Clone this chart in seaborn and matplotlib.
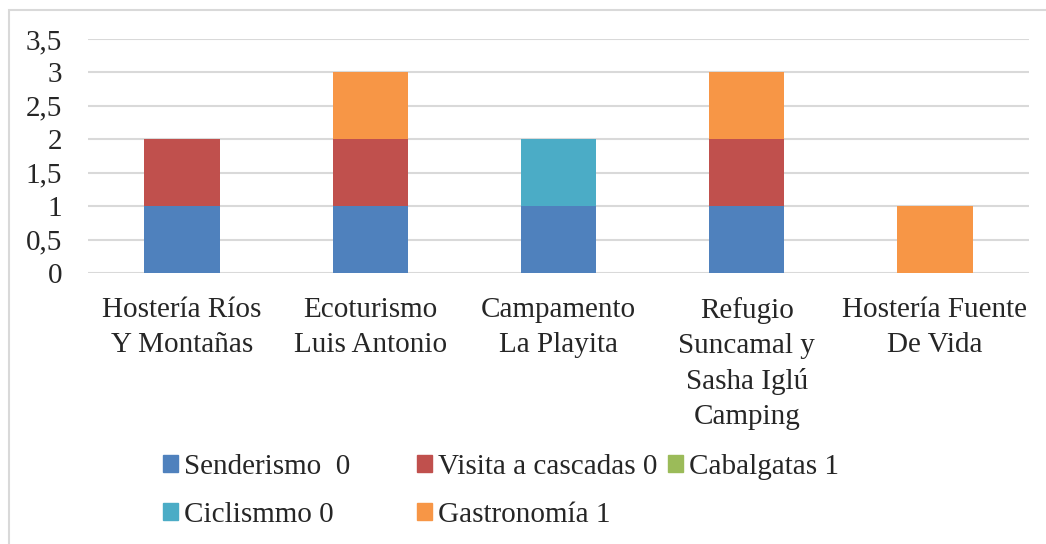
import matplotlib
matplotlib.use("Agg")
import matplotlib.pyplot as plt
import matplotlib.patches as mpatches
import seaborn as sns
import numpy as np
import pandas as pd

categories = ["Hostería Ríos\nY Montañas", "Ecoturismo\nLuis Antonio", "Campamento\nLa Playita",
              "Refugio\nSuncamal y\nSasha Iglú\nCamping", "Hostería Fuente\nDe Vida"]
series_names = ["Senderismo  0", "Visita a cascadas 0", "Cabalgatas 1", "Ciclismmo 0", "Gastronomía 1"]
senderismo = [1, 1, 1, 1, 0]
visita = [1, 1, 0, 1, 0]
cabalgatas = [0, 0, 0, 0, 0]
ciclismo = [0, 0, 1, 0, 0]
gastronomia = [0, 1, 0, 1, 1]
colors = ["#4F81BD", "#C0504D", "#9BBB59", "#4BACC6", "#F79646"]
yticks = [0, 0.5, 1, 1.5, 2, 2.5, 3, 3.5]
ytick_labels = ["0", "0,5", "1", "1,5", "2", "2,5", "3", "3,5"]

sns.set_theme(style="white")
plt.rcParams['font.family'] = ['Liberation Serif', 'DejaVu Serif']

FS = 21
W, H = 1046, 544
fig = plt.figure(figsize=(W / 100, H / 100), dpi=100)
ax = fig.add_axes([88 / W, 1 - 273 / H, (1029 - 88) / W, (273 - 39) / H])

data = np.array([senderismo, visita, cabalgatas, ciclismo, gastronomia], dtype=float)
cum = np.cumsum(data, axis=0)
for i in range(len(series_names) - 1, -1, -1):
    df = pd.DataFrame({"cat": categories, "val": cum[i]})
    sns.barplot(data=df, x="cat", y="val", color=colors[i], width=0.4,
                linewidth=0, saturation=1, ax=ax, zorder=3)

ax.set_ylim(0, 3.5)
ax.set_xlim(-0.5, 4.5)
ax.set_yticks(yticks)
ax.set_yticklabels(ytick_labels, fontsize=FS)
ax.set_xlabel("")
ax.set_ylabel("")
ax.grid(axis="y", color="#d9d9d9", linewidth=1.5, zorder=0)
ax.grid(axis="x", visible=False)
for s in ax.spines.values():
    s.set_visible(False)
ax.tick_params(axis="y", length=0, pad=18.5)
ax.tick_params(axis="x", length=0, pad=17.5)
for lbl in ax.get_xticklabels():
    lbl.set_fontsize(FS)
    lbl.set_linespacing(1.43)
    lbl.set_verticalalignment("top")
for lbl in ax.get_yticklabels():
    lbl.set_horizontalalignment("right")

# legend entries placed individually
positions = [(163, 467), (417, 467), (668, 467), (163, 515), (417, 515)]
for name, col, (px, py) in zip(series_names, colors, positions):
    h = mpatches.Patch(color=col)
    fig.legend(handles=[h], labels=[name], loc="center left",
               bbox_to_anchor=(px / W, 1 - py / H), frameon=False, fontsize=FS,
               handlelength=0.51, handleheight=0.51, handletextpad=0.2,
               borderpad=0, borderaxespad=0)

# figure border (top and left visible)
border = mpatches.Rectangle((9 / W, -0.1), 1.2, 1 - 10 / H + 0.1, transform=fig.transFigure,
                            fill=False, edgecolor="#d9d9d9", linewidth=1.5)
fig.patches.append(border)

fig.savefig("out.png", dpi=100)
